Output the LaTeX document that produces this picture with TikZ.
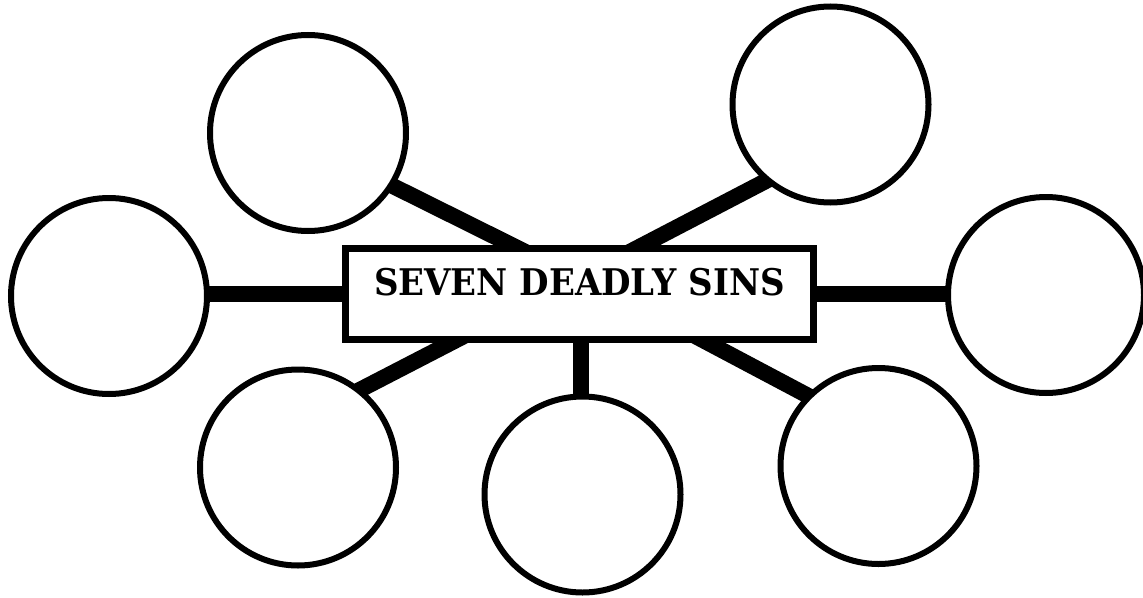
\documentclass[tikz,border=0pt]{standalone}
\usepackage{fontspec}
\newfontfamily\titlefont{DejaVu Serif}
\usetikzlibrary{backgrounds}
\begin{document}
\begin{tikzpicture}[x=1pt,y=-1pt,
  bubble/.style={circle,draw=black,line width=6pt,fill=white,minimum size=196pt,inner sep=0pt},
  titlebox/.style={rectangle,draw=black,line width=6.5pt,fill=white,inner sep=0pt,
    minimum width=468.4pt,text height=46.7pt,text depth=44.7pt,
    font=\titlefont\bfseries\fontsize{34}{40}\selectfont},
  conn/.style={line width=16pt,black}]
\useasboundingbox (0,0) rectangle (1143,597);
% title
\node[titlebox,anchor=base] (title) at (579.5,295) {\scalebox{1}[1.08]{SEVEN DEADLY SINS}};
% bubbles
\node[bubble] (tl) at (308,133) {};
\node[bubble] (tr) at (830.5,104.5) {};
\node[bubble] (l)  at (109,296) {};
\node[bubble] (r)  at (1046,295) {};
\node[bubble] (bl) at (298,467.5) {};
\node[bubble] (bc) at (582.5,494.5) {};
\node[bubble] (br) at (878.5,466) {};
% connector end points
\coordinate (tl-in)  at (360,169.7);  \coordinate (tl-out) at (561.8,270);
\coordinate (tr-in)  at (800,163.2);  \coordinate (tr-out) at (595,270);
\coordinate (l-in)   at (150,294);    \coordinate (l-out)  at (400,294);
\coordinate (r-in)   at (1000,294);   \coordinate (r-out)  at (760,294);
\coordinate (bl-in)  at (330,405.3);  \coordinate (bl-out) at (495,320);
\coordinate (bc-in)  at (581,450);    \coordinate (bc-out) at (581,320);
\coordinate (br-in)  at (830,407.4);  \coordinate (br-out) at (665,320);
\begin{pgfonlayer}{background}
\draw[conn] (tl-in) -- (tl-out);
\draw[conn] (tr-in) -- (tr-out);
\draw[conn] (l-in) -- (l-out);
\draw[conn] (r-in) -- (r-out);
\draw[conn] (bl-in) -- (bl-out);
\draw[conn] (bc-in) -- (bc-out);
\draw[conn] (br-in) -- (br-out);
\end{pgfonlayer}
\end{tikzpicture}
\end{document}
